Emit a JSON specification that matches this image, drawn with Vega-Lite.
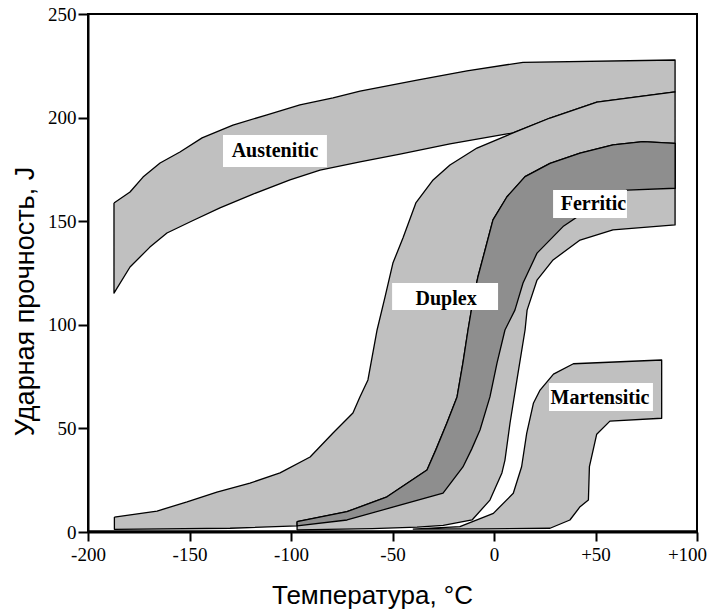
{
  "$schema": "https://vega.github.io/schema/vega-lite/v6.json",
  "width": 609,
  "height": 518,
  "autosize": {"type": "none"},
  "padding": {"left": 88, "top": 14, "right": 12, "bottom": 80},
  "background": "white",
  "config": {
    "view": {"stroke": "black", "strokeWidth": 2},
    "axis": {
      "grid": false,
      "domainColor": "black",
      "domainWidth": 2,
      "tickColor": "black",
      "tickWidth": 2,
      "labelFont": "Liberation Serif",
      "labelFontSize": 19,
      "labelColor": "black",
      "labelFlush": false,
      "labelOverlap": false,
      "titleFont": "Liberation Sans",
      "titleFontWeight": "normal",
      "titleColor": "black"
    }
  },
  "datasets": {
    "bands": [
      {"s": "Austenitic", "i": 0, "t": -187.2, "e": 158.8},
      {"s": "Austenitic", "i": 1, "t": -179.3, "e": 164.1},
      {"s": "Austenitic", "i": 2, "t": -172.9, "e": 171.3},
      {"s": "Austenitic", "i": 3, "t": -164.5, "e": 178.1},
      {"s": "Austenitic", "i": 4, "t": -154.7, "e": 183.4},
      {"s": "Austenitic", "i": 5, "t": -143.8, "e": 190.2},
      {"s": "Austenitic", "i": 6, "t": -128.6, "e": 196.4},
      {"s": "Austenitic", "i": 7, "t": -111.8, "e": 201.3},
      {"s": "Austenitic", "i": 8, "t": -95.6, "e": 206.1},
      {"s": "Austenitic", "i": 9, "t": -79.3, "e": 209.5},
      {"s": "Austenitic", "i": 10, "t": -66, "e": 212.8},
      {"s": "Austenitic", "i": 11, "t": -37.9, "e": 218.1},
      {"s": "Austenitic", "i": 12, "t": -13.3, "e": 222.6},
      {"s": "Austenitic", "i": 13, "t": 14.3, "e": 226.7},
      {"s": "Austenitic", "i": 14, "t": 89.2, "e": 227.8},
      {"s": "Austenitic", "i": 15, "t": 89.2, "e": 212.4},
      {"s": "Austenitic", "i": 16, "t": 50.7, "e": 207.5},
      {"s": "Austenitic", "i": 17, "t": 27.6, "e": 199.8},
      {"s": "Austenitic", "i": 18, "t": 9.4, "e": 192.6},
      {"s": "Austenitic", "i": 19, "t": 6.4, "e": 192.1},
      {"s": "Austenitic", "i": 20, "t": -21.7, "e": 187.3},
      {"s": "Austenitic", "i": 21, "t": -46.3, "e": 182.4},
      {"s": "Austenitic", "i": 22, "t": -66, "e": 178.6},
      {"s": "Austenitic", "i": 23, "t": -85.7, "e": 174.7},
      {"s": "Austenitic", "i": 24, "t": -100.5, "e": 169.9},
      {"s": "Austenitic", "i": 25, "t": -118.7, "e": 163.1},
      {"s": "Austenitic", "i": 26, "t": -135, "e": 156.4},
      {"s": "Austenitic", "i": 27, "t": -148.8, "e": 150.1},
      {"s": "Austenitic", "i": 28, "t": -161.1, "e": 144.3},
      {"s": "Austenitic", "i": 29, "t": -169.5, "e": 137.5},
      {"s": "Austenitic", "i": 30, "t": -179.3, "e": 127.9},
      {"s": "Austenitic", "i": 31, "t": -187.2, "e": 115.3},
      {"s": "Austenitic", "i": 32, "t": -187.2, "e": 158.8},

      {"s": "Duplex", "i": 0, "t": -187, "e": 7.2},
      {"s": "Duplex", "i": 1, "t": -166, "e": 10.1},
      {"s": "Duplex", "i": 2, "t": -151.2, "e": 14.5},
      {"s": "Duplex", "i": 3, "t": -136.5, "e": 19.3},
      {"s": "Duplex", "i": 4, "t": -120.2, "e": 23.6},
      {"s": "Duplex", "i": 5, "t": -105.4, "e": 28.5},
      {"s": "Duplex", "i": 6, "t": -90.6, "e": 36.2},
      {"s": "Duplex", "i": 7, "t": -79.3, "e": 47.8},
      {"s": "Duplex", "i": 8, "t": -69.5, "e": 57.4},
      {"s": "Duplex", "i": 9, "t": -66, "e": 65.3},
      {"s": "Duplex", "i": 10, "t": -62.1, "e": 73.4},
      {"s": "Duplex", "i": 11, "t": -57.6, "e": 97.5},
      {"s": "Duplex", "i": 12, "t": -53.7, "e": 113.4},
      {"s": "Duplex", "i": 13, "t": -49.8, "e": 129.8},
      {"s": "Duplex", "i": 14, "t": -44.8, "e": 142},
      {"s": "Duplex", "i": 15, "t": -38.5, "e": 158.8},
      {"s": "Duplex", "i": 16, "t": -30, "e": 169.9},
      {"s": "Duplex", "i": 17, "t": -21.7, "e": 177.1},
      {"s": "Duplex", "i": 18, "t": -8.4, "e": 185.3},
      {"s": "Duplex", "i": 19, "t": 9.4, "e": 192.6},
      {"s": "Duplex", "i": 20, "t": 27.6, "e": 199.8},
      {"s": "Duplex", "i": 21, "t": 50.7, "e": 207.5},
      {"s": "Duplex", "i": 22, "t": 89.2, "e": 212.4},
      {"s": "Duplex", "i": 23, "t": 89.2, "e": 165.9},
      {"s": "Duplex", "i": 24, "t": 65.5, "e": 165},
      {"s": "Duplex", "i": 25, "t": 50.7, "e": 158.5},
      {"s": "Duplex", "i": 26, "t": 34, "e": 147.4},
      {"s": "Duplex", "i": 27, "t": 21.2, "e": 134.6},
      {"s": "Duplex", "i": 28, "t": 14.3, "e": 120.2},
      {"s": "Duplex", "i": 29, "t": 10.3, "e": 107.1},
      {"s": "Duplex", "i": 30, "t": 5.4, "e": 97.5},
      {"s": "Duplex", "i": 31, "t": 1.5, "e": 81.6},
      {"s": "Duplex", "i": 32, "t": -2, "e": 65.2},
      {"s": "Duplex", "i": 33, "t": -6.9, "e": 49.2},
      {"s": "Duplex", "i": 34, "t": -11, "e": 40},
      {"s": "Duplex", "i": 35, "t": -15.3, "e": 31.4},
      {"s": "Duplex", "i": 36, "t": -25.1, "e": 18.8},
      {"s": "Duplex", "i": 37, "t": -51.2, "e": 11.6},
      {"s": "Duplex", "i": 38, "t": -72.4, "e": 5.8},
      {"s": "Duplex", "i": 39, "t": -97, "e": 3.0},
      {"s": "Duplex", "i": 40, "t": -130, "e": 1.8},
      {"s": "Duplex", "i": 41, "t": -187, "e": 1.3},
      {"s": "Duplex", "i": 42, "t": -187, "e": 7.2},

      {"s": "Ferritic", "i": 0, "t": -97, "e": 1.0},
      {"s": "Ferritic", "i": 1, "t": -97, "e": 5.0},
      {"s": "Ferritic", "i": 2, "t": -72.4, "e": 9.8},
      {"s": "Ferritic", "i": 3, "t": -52.7, "e": 17.0},
      {"s": "Ferritic", "i": 4, "t": -33, "e": 29.9},
      {"s": "Ferritic", "i": 5, "t": -28.5, "e": 40},
      {"s": "Ferritic", "i": 6, "t": -23.2, "e": 52.6},
      {"s": "Ferritic", "i": 7, "t": -18.2, "e": 65.2},
      {"s": "Ferritic", "i": 8, "t": -15.3, "e": 81.6},
      {"s": "Ferritic", "i": 9, "t": -12.8, "e": 97.5},
      {"s": "Ferritic", "i": 10, "t": -10.3, "e": 112},
      {"s": "Ferritic", "i": 11, "t": -7.9, "e": 123.2},
      {"s": "Ferritic", "i": 12, "t": -4.4, "e": 136.1},
      {"s": "Ferritic", "i": 13, "t": -0.5, "e": 150.6},
      {"s": "Ferritic", "i": 14, "t": 6.4, "e": 161.8},
      {"s": "Ferritic", "i": 15, "t": 15.3, "e": 171.5},
      {"s": "Ferritic", "i": 16, "t": 27.6, "e": 177.9},
      {"s": "Ferritic", "i": 17, "t": 42.4, "e": 182.8},
      {"s": "Ferritic", "i": 18, "t": 58.6, "e": 186.8},
      {"s": "Ferritic", "i": 19, "t": 73.4, "e": 188.4},
      {"s": "Ferritic", "i": 20, "t": 89.2, "e": 187.6},
      {"s": "Ferritic", "i": 21, "t": 89.2, "e": 148.2},
      {"s": "Ferritic", "i": 22, "t": 58.6, "e": 145.8},
      {"s": "Ferritic", "i": 23, "t": 42.4, "e": 140.9},
      {"s": "Ferritic", "i": 24, "t": 29.1, "e": 131.3},
      {"s": "Ferritic", "i": 25, "t": 21.2, "e": 121.6},
      {"s": "Ferritic", "i": 26, "t": 16.3, "e": 107.1},
      {"s": "Ferritic", "i": 27, "t": 15.3, "e": 97.5},
      {"s": "Ferritic", "i": 28, "t": 11.3, "e": 73.4},
      {"s": "Ferritic", "i": 29, "t": 7.9, "e": 52.6},
      {"s": "Ferritic", "i": 30, "t": 5.4, "e": 34.7},
      {"s": "Ferritic", "i": 31, "t": 3.9, "e": 28.5},
      {"s": "Ferritic", "i": 32, "t": -2, "e": 15.4},
      {"s": "Ferritic", "i": 33, "t": -10.8, "e": 5.8},
      {"s": "Ferritic", "i": 34, "t": -25, "e": 3.2},
      {"s": "Ferritic", "i": 35, "t": -37.9, "e": 2.4},
      {"s": "Ferritic", "i": 36, "t": -60, "e": 1.6},
      {"s": "Ferritic", "i": 37, "t": -97, "e": 1.0},

      {"s": "Martensitic", "i": 0, "t": -40, "e": 1.4},
      {"s": "Martensitic", "i": 1, "t": -16.8, "e": 2.6},
      {"s": "Martensitic", "i": 2, "t": -0.3, "e": 9.0},
      {"s": "Martensitic", "i": 3, "t": 9.5, "e": 18.7},
      {"s": "Martensitic", "i": 4, "t": 13.6, "e": 31.5},
      {"s": "Martensitic", "i": 5, "t": 16.1, "e": 47.6},
      {"s": "Martensitic", "i": 6, "t": 19.4, "e": 62.1},
      {"s": "Martensitic", "i": 7, "t": 22.7, "e": 68.5},
      {"s": "Martensitic", "i": 8, "t": 29.3, "e": 76.2},
      {"s": "Martensitic", "i": 9, "t": 39.1, "e": 81.2},
      {"s": "Martensitic", "i": 10, "t": 82.6, "e": 83.0},
      {"s": "Martensitic", "i": 11, "t": 82.6, "e": 54.9},
      {"s": "Martensitic", "i": 12, "t": 57.1, "e": 53.5},
      {"s": "Martensitic", "i": 13, "t": 50.6, "e": 47.2},
      {"s": "Martensitic", "i": 14, "t": 47, "e": 31.5},
      {"s": "Martensitic", "i": 15, "t": 46.5, "e": 15.4},
      {"s": "Martensitic", "i": 16, "t": 42.4, "e": 12.2},
      {"s": "Martensitic", "i": 17, "t": 37.4, "e": 5.8},
      {"s": "Martensitic", "i": 18, "t": 27.6, "e": 1.8},
      {"s": "Martensitic", "i": 19, "t": -5, "e": 1.5},
      {"s": "Martensitic", "i": 20, "t": -40, "e": 1.4}
    ],
    "overlap": [
      {"i": 0, "t": -97, "e": 5.0},
      {"i": 1, "t": -72.4, "e": 9.8},
      {"i": 2, "t": -52.7, "e": 17.0},
      {"i": 3, "t": -33, "e": 29.9},
      {"i": 4, "t": -28.5, "e": 40},
      {"i": 5, "t": -23.2, "e": 52.6},
      {"i": 6, "t": -18.2, "e": 65.2},
      {"i": 7, "t": -15.3, "e": 81.6},
      {"i": 8, "t": -12.8, "e": 97.5},
      {"i": 9, "t": -10.3, "e": 112},
      {"i": 10, "t": -7.9, "e": 123.2},
      {"i": 11, "t": -4.4, "e": 136.1},
      {"i": 12, "t": -0.5, "e": 150.6},
      {"i": 13, "t": 6.4, "e": 161.8},
      {"i": 14, "t": 15.3, "e": 171.5},
      {"i": 15, "t": 27.6, "e": 177.9},
      {"i": 16, "t": 42.4, "e": 182.8},
      {"i": 17, "t": 58.6, "e": 186.8},
      {"i": 18, "t": 73.4, "e": 188.4},
      {"i": 19, "t": 89.2, "e": 187.6},
      {"i": 20, "t": 89.2, "e": 165.9},
      {"i": 21, "t": 65.5, "e": 165},
      {"i": 22, "t": 50.7, "e": 158.5},
      {"i": 23, "t": 34, "e": 147.4},
      {"i": 24, "t": 21.2, "e": 134.6},
      {"i": 25, "t": 14.3, "e": 120.2},
      {"i": 26, "t": 10.3, "e": 107.1},
      {"i": 27, "t": 5.4, "e": 97.5},
      {"i": 28, "t": 1.5, "e": 81.6},
      {"i": 29, "t": -2, "e": 65.2},
      {"i": 30, "t": -6.9, "e": 49.2},
      {"i": 31, "t": -11, "e": 40},
      {"i": 32, "t": -15.3, "e": 31.4},
      {"i": 33, "t": -25.1, "e": 18.8},
      {"i": 34, "t": -51.2, "e": 11.6},
      {"i": 35, "t": -72.4, "e": 5.8},
      {"i": 36, "t": -97, "e": 3.0},
      {"i": 37, "t": -97, "e": 5.0}
    ],
    "baseline": [
      {"i": 0, "t": -200, "e": 0.6},
      {"i": 1, "t": 100, "e": 0.6}
    ],
    "labels": [
      {"name": "Austenitic", "tx": -107.9, "ty": 183.9, "x1": -133.5, "x2": -82.3, "y1": 176.2, "y2": 191.6},
      {"name": "Duplex", "tx": -23.6, "ty": 112.6, "x1": -50.2, "x2": 2.0, "y1": 107.1, "y2": 120.2},
      {"name": "Ferritic", "tx": 49.0, "ty": 158.2, "x1": 29.1, "x2": 65.5, "y1": 151.5, "y2": 165.1},
      {"name": "Martensitic", "tx": 52.2, "ty": 64.8, "x1": 27.1, "x2": 78.3, "y1": 58.4, "y2": 71.9}
    ]
  },
  "layer": [
    {
      "data": {"name": "baseline"},
      "mark": {"type": "line", "stroke": "black", "strokeWidth": 1.2},
      "encoding": {
        "x": {
          "field": "t",
          "type": "quantitative",
          "scale": {"domain": [-200, 100], "nice": false, "zero": false},
          "axis": {
            "title": "Температура, °C",
            "values": [-200, -150, -100, -50, 0, 50, 100],
            "labelExpr": "datum.value > 0 ? '+' + datum.value : '' + datum.value",
            "tickSize": 9,
            "labelPadding": 4,
            "labelOffset": {"condition": {"test": "datum.value == 100", "value": -10}, "value": 0},
            "titleFontSize": 26,
            "titleX": 284,
            "titleY": 71,
            "titleAlign": "center",
            "titleBaseline": "alphabetic"
          }
        },
        "y": {
          "field": "e",
          "type": "quantitative",
          "scale": {"domain": [0, 250], "nice": false, "zero": false},
          "axis": {
            "title": "Ударная прочность, J",
            "values": [0, 50, 100, 150, 200, 250],
            "tickSize": 10,
            "labelPadding": 2,
            "titleFontSize": 27,
            "titleAngle": -90,
            "titleX": -55,
            "titleY": 287,
            "titleAlign": "center",
            "titleBaseline": "alphabetic"
          }
        },
        "order": {"field": "i", "type": "quantitative"}
      }
    },
    {
      "data": {"name": "bands"},
      "mark": {"type": "line", "fill": "#c0c0c0", "stroke": "black", "strokeWidth": 1.3, "strokeJoin": "round"},
      "encoding": {
        "x": {"field": "t", "type": "quantitative"},
        "y": {"field": "e", "type": "quantitative"},
        "detail": {"field": "s", "type": "nominal"},
        "order": {"field": "i", "type": "quantitative"}
      }
    },
    {
      "data": {"name": "overlap"},
      "mark": {"type": "line", "fill": "#8e8e8e", "stroke": "black", "strokeWidth": 1.3, "strokeJoin": "round"},
      "encoding": {
        "x": {"field": "t", "type": "quantitative"},
        "y": {"field": "e", "type": "quantitative"},
        "order": {"field": "i", "type": "quantitative"}
      }
    },
    {
      "data": {"name": "labels"},
      "mark": {"type": "rect", "fill": "white", "stroke": null},
      "encoding": {
        "x": {"field": "x1", "type": "quantitative"},
        "x2": {"field": "x2"},
        "y": {"field": "y1", "type": "quantitative"},
        "y2": {"field": "y2"}
      }
    },
    {
      "data": {"name": "labels"},
      "mark": {"type": "text", "font": "Liberation Serif", "fontWeight": "bold", "fontSize": 20, "color": "black", "align": "center", "baseline": "middle"},
      "encoding": {
        "x": {"field": "tx", "type": "quantitative"},
        "y": {"field": "ty", "type": "quantitative"},
        "text": {"field": "name"}
      }
    }
  ]
}
